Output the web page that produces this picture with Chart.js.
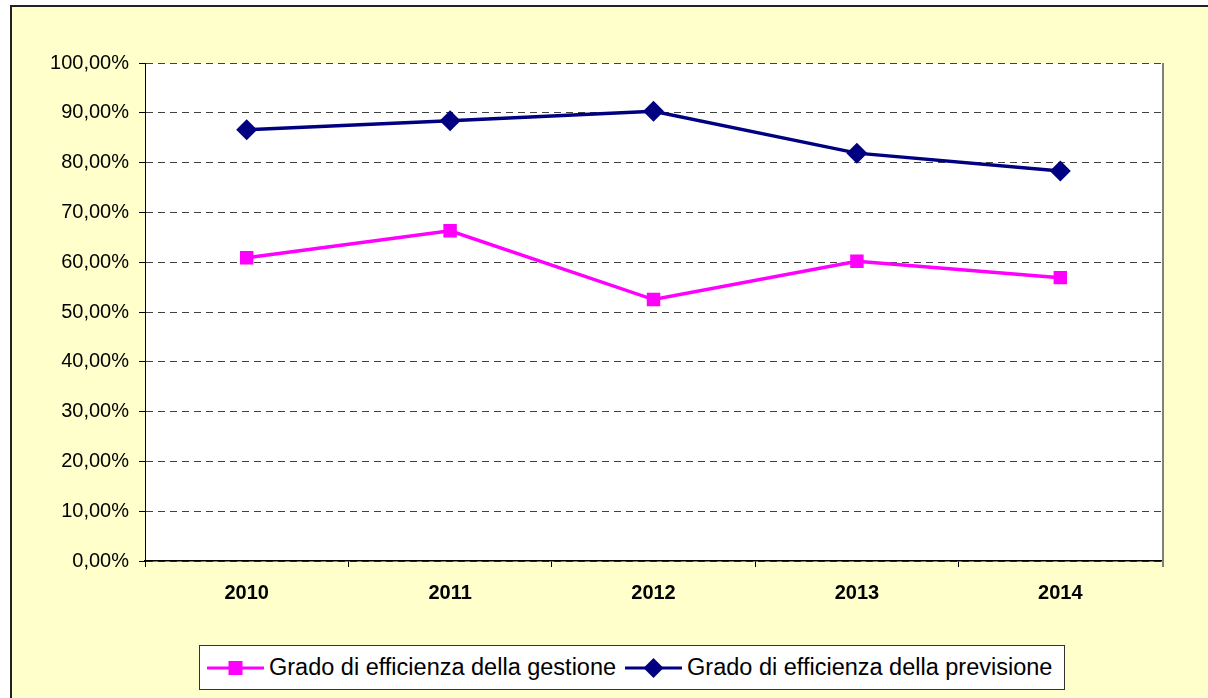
<!DOCTYPE html>
<html>
<head>
<meta charset="utf-8">
<script src="https://cdn.jsdelivr.net/npm/chart.js@4/dist/chart.umd.min.js"></script>
<style>
  html, body { margin: 0; padding: 0; background: #fff; overflow: hidden; }
  body { width: 1208px; height: 698px; position: relative; font-family: "Liberation Sans", Arial, sans-serif; }
  #frame {
    position: absolute; left: 10px; top: 5px; width: 1300px; height: 800px;
    border: 2px solid #222; background: #ffffcc;
  }
  #chart { position: absolute; left: 0; top: 0; }
  #legend {
    position: absolute; left: 199px; top: 645px; width: 866px; height: 45px;
    box-sizing: border-box; border: 1px solid #333; background: #fff;
    display: flex; align-items: center; padding-left: 7px;
    font-size: 23.5px; color: #000; white-space: nowrap;
  }
  #legend .item { display: flex; align-items: center; }
  #legend .item + .item { margin-left: 9px; }
  #legend svg { display: block; margin-right: 5px; }
</style>
</head>
<body>
<div id="frame"></div>
<canvas id="chart" width="1208" height="698"></canvas>
<div id="legend"></div>

<script>
// ============================================================
// Grado di efficienza — gestione vs previsione (2010-2014)
// ============================================================

const YEARS = ["2010", "2011", "2012", "2013", "2014"];

// valori, in percentuale
const GESTIONE  = [60.9, 66.3, 52.5, 60.2, 56.9];
const PREVISIONE = [86.6, 88.4, 90.3, 81.9, 78.3];

const SERIES_NAMES = ["Grado di efficienza della gestione", "Grado di efficienza della previsione"];
const SERIES_COLORS = ["#ff00ff", "#000080"];

const Y_MIN = 0;
const Y_MAX = 100;
const Y_STEP = 10;

const FONT = "'Liberation Sans', Arial, sans-serif";

/* =========================
   SFONDO AREA DEL GRAFICO
========================= */
const plotAreaPlugin = {
  id: "plotArea",
  beforeDraw(chart) {
    const { ctx, chartArea: a } = chart;
    ctx.save();
    ctx.fillStyle = "#ffffff";
    ctx.fillRect(a.left, a.top, a.right - a.left, a.bottom - a.top);
    ctx.restore();
  },
  afterDraw(chart) {
    const { ctx, chartArea: a } = chart;
    ctx.save();
    ctx.strokeStyle = "#808080";
    ctx.lineWidth = 2;
    ctx.beginPath();
    ctx.moveTo(a.right + 1, a.top);
    ctx.lineTo(a.right + 1, a.bottom + 6);
    ctx.stroke();
    ctx.restore();
  },
};

/* =========================
   GRAFICO
========================= */
function renderChart() {
  const canvas = document.getElementById("chart");

  new Chart(canvas.getContext("2d"), {
    type: "line",
    data: {
      labels: YEARS,
      datasets: [
        {
          label: SERIES_NAMES[0],
          data: GESTIONE,
          borderColor: SERIES_COLORS[0],
          backgroundColor: SERIES_COLORS[0],
          borderWidth: 3.5,
          tension: 0,
          pointStyle: "rect",
          pointRadius: 9.5,
          pointBorderWidth: 0,
        },
        {
          label: SERIES_NAMES[1],
          data: PREVISIONE,
          borderColor: SERIES_COLORS[1],
          backgroundColor: SERIES_COLORS[1],
          borderWidth: 3.5,
          tension: 0,
          pointStyle: "rectRot",
          pointRadius: 10.5,
          pointBorderWidth: 0,
        },
      ],
    },
    options: {
      responsive: false,
      animation: false,
      layout: { padding: { left: 0, top: 63, right: 46, bottom: 0 } },
      plugins: { legend: { display: false }, tooltip: { enabled: false } },
      scales: {
        x: {
          offset: true,
          afterFit: (s) => { s.height = 137; },
          grid: { offset: true, drawOnChartArea: false, drawTicks: true, tickLength: 6, color: "#000" },
          border: { display: true, color: "#000", width: 1.5 },
          ticks: { color: "#000", padding: 14, font: { family: FONT, size: 20, weight: "bold" } },
        },
        y: {
          min: Y_MIN,
          max: Y_MAX,
          afterFit: (s) => { s.width = 145; },
          grid: {
            color: "#404040",
            lineWidth: 1,
            borderDash: [7, 5],
            tickLength: 6,
            tickColor: "#000",
            tickBorderDash: [],
          },
          border: { display: true, color: "#000", width: 1, dash: [7, 5] },
          ticks: {
            stepSize: Y_STEP,
            color: "#000",
            padding: 10,
            font: { family: FONT, size: 20 },
            callback: (v) => v.toFixed(2).replace(".", ",") + "%",
          },
        },
      },
    },
    plugins: [plotAreaPlugin],
  });
}

/* =========================
   LEGENDA
========================= */
function symbolSvg(i) {
  const c = SERIES_COLORS[i];
  const marker = i === 0
    ? `<rect x="21.5" y="4" width="14" height="14" fill="${c}"/>`
    : `<polygon points="28.5,1 38.5,11 28.5,21 18.5,11" fill="${c}"/>`;
  return `<svg width="57" height="22" viewBox="0 0 57 22">
    <line x1="0" y1="11" x2="57" y2="11" stroke="${c}" stroke-width="3"/>${marker}</svg>`;
}

function renderLegend() {
  const box = document.getElementById("legend");
  box.innerHTML = SERIES_NAMES.map((name, i) =>
    `<div class="item">${symbolSvg(i)}<span>${name}</span></div>`).join("");
}

renderChart();
renderLegend();
</script>
</body>
</html>
